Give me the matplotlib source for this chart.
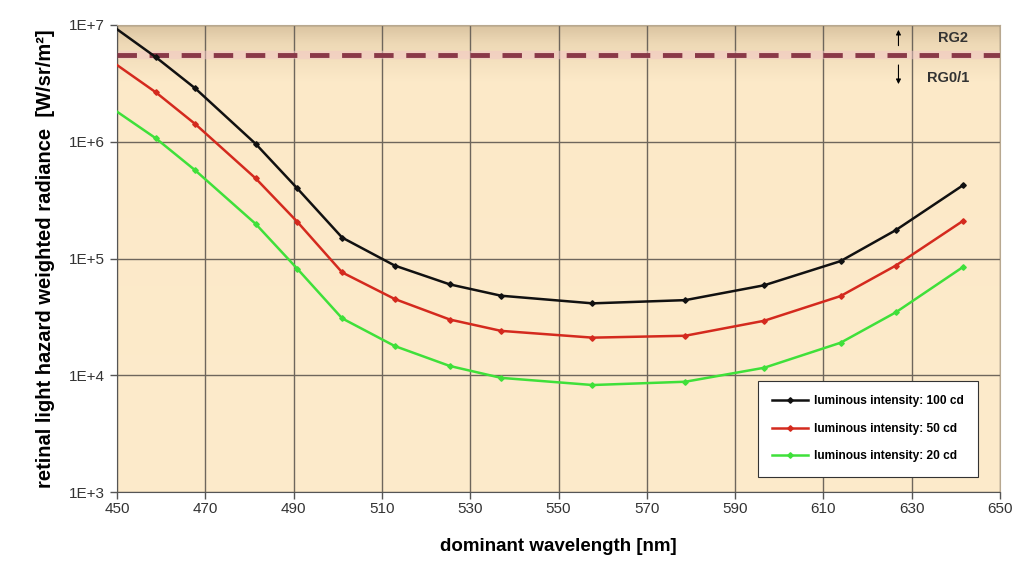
import numpy as np
import matplotlib.pyplot as plt
from matplotlib.colors import LinearSegmentedColormap

# Daten
wavelength = [450, 458.8, 467.7, 481.4, 490.8, 501.0, 512.9, 525.4, 537.0,
              557.7, 578.7, 596.6, 613.9, 626.4, 641.7]

radiance_100cd = [9.2e6, 5.3e6, 2.87e6, 9.6e5, 4.0e5, 1.51e5, 8.7e4, 6.0e4, 4.8e4,
                  4.13e4, 4.4e4, 5.9e4, 9.5e4, 1.75e5, 4.26e5]
radiance_50cd = [4.54e6, 2.65e6, 1.42e6, 4.86e5, 2.07e5, 7.6e4, 4.5e4, 3.0e4, 2.4e4,
                 2.1e4, 2.18e4, 2.93e4, 4.77e4, 8.7e4, 2.11e5]
radiance_20cd = [1.81e6, 1.07e6, 5.7e5, 1.98e5, 8.2e4, 3.07e4, 1.78e4, 1.2e4, 9.5e3,
                 8.25e3, 8.8e3, 1.16e4, 1.9e4, 3.46e4, 8.5e4]

series_labels = ["luminous intensity: 100 cd",
                 "luminous intensity: 50 cd",
                 "luminous intensity: 20 cd"]
rg2_limit = 5.5e6

x_ticks = list(range(450, 651, 20))
y_ticks = [1e3, 1e4, 1e5, 1e6, 1e7]
y_ticklabels = ["1E+3", "1E+4", "1E+5", "1E+6", "1E+7"]

plt.rcParams["font.family"] = ["Liberation Sans", "DejaVu Sans"]

fig = plt.figure(figsize=(10.2, 5.76), dpi=100, facecolor="white")
ax = fig.add_axes([0.1147, 0.1458, 0.8657, 0.8108])
ax.set_yscale("log")
ax.set_xlim(450, 650)
ax.set_ylim(1e3, 1e7)

# Hintergrund mit leichtem Verlauf oben
cmap = LinearSegmentedColormap.from_list(
    "bg", [(0.0, "#fdebcb"), (0.88, "#fce9c8"), (0.96, "#eed9b6"), (1.0, "#d9c3a0")])
grad = np.linspace(0, 1, 256).reshape(-1, 1)
ax.imshow(grad, cmap=cmap, aspect="auto", origin="lower",
          extent=[0, 1, 0, 1], transform=ax.transAxes, zorder=0)

ax.grid(True, which="major", color="#6e665c", linewidth=1.0, zorder=1)
ax.set_axisbelow(True)

# Grenze RG2
ax.axhline(rg2_limit, color="#f2c6c6", linewidth=6, alpha=0.5, zorder=2)
ax.axhline(rg2_limit, color="#8a3848", linewidth=3.5, linestyle=(0, (4, 2.6)), zorder=3)
ax.annotate("", xy=(627, 9.6e6), xytext=(627, 6.3e6),
            arrowprops=dict(arrowstyle="-|>", color="black", lw=0.8, mutation_scale=7),
            zorder=4)
ax.annotate("", xy=(627, 2.95e6), xytext=(627, 4.8e6),
            arrowprops=dict(arrowstyle="-|>", color="black", lw=0.8, mutation_scale=7),
            zorder=4)
ax.text(636, 7.7e6, "RG2", fontsize=10.5, fontweight="bold", color="#333333",
        va="center", ha="left")
ax.text(633.5, 3.5e6, "RG0/1", fontsize=10.5, fontweight="bold", color="#333333",
        va="center", ha="left")

# Kurven
colors = ["#111111", "#d42a1e", "#3fe03a"]
for vals, col, lab in zip([radiance_100cd, radiance_50cd, radiance_20cd], colors, series_labels):
    ax.plot(wavelength, vals, color=col, linewidth=1.8, marker="D", markersize=2.8,
            markevery=list(range(1, len(wavelength))), label=lab, zorder=5)

# Achsen
ax.set_xticks(x_ticks)
ax.set_xticklabels([str(t) for t in x_ticks], fontsize=11, color="#333333")
ax.set_yticks(y_ticks)
ax.set_yticklabels(y_ticklabels, fontsize=11, color="#333333")
ax.minorticks_off()
ax.tick_params(axis="both", direction="out", length=5, color="#555555", width=1)
ax.tick_params(axis="x", pad=2)
for side in ["top", "right"]:
    ax.spines[side].set_color("#b8a890")
    ax.spines[side].set_linewidth(0.8)
for side in ["left", "bottom"]:
    ax.spines[side].set_color("#555555")

ax.set_xlabel("dominant wavelength [nm]", fontsize=13.5, fontweight="bold", labelpad=16)
ax.set_ylabel("retinal light hazard weighted radiance  [W/sr/m\u00b2]", fontsize=14.5,
              fontweight="bold", labelpad=10)

leg = ax.legend(loc="lower right", bbox_to_anchor=(0.982, 0.02),
                prop={"weight": "bold", "size": 8.6}, frameon=True, fancybox=False,
                edgecolor="#333333", framealpha=1.0, handlelength=3.0,
                labelspacing=1.3, borderpad=1.2, handletextpad=0.5)
leg.get_frame().set_linewidth(0.8)
leg.set_zorder(10)

plt.savefig("out.png", dpi=100, facecolor="white")
